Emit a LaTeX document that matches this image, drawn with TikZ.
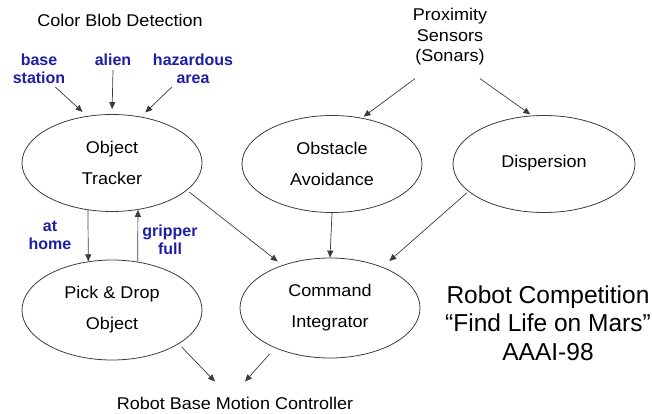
\documentclass[tikz,border=0pt]{standalone}
\usepackage{fontspec}
\setmainfont{Liberation Sans}
\newfontfamily\widesans[FakeStretch=1.06]{Liberation Sans}
\usetikzlibrary{shapes.geometric,arrows.meta}
\definecolor{lblue}{RGB}{30,30,165}
\definecolor{ln}{RGB}{60,60,60}
\begin{document}
\begin{tikzpicture}[x=1pt,y=-1pt,
 ell/.style={draw=ln,line width=0.8pt,ellipse,minimum width=180pt,minimum height=97pt,inner sep=0pt,align=center,font=\widesans\fontsize{17}{31}\selectfont},
 lab/.style={inner sep=0pt,align=center,font=\widesans\fontsize{17}{18}\selectfont},
 blab/.style={inner sep=0pt,align=center,font=\fontsize{16}{18}\selectfont\bfseries,text=lblue},
 arr/.style={draw=ln,line width=0.7pt,-{Triangle[length=7pt,width=6pt]}}]
\useasboundingbox (0,0) rectangle (652,414);
% ellipses
\node[ell] (OT) at (112,163) {Object\\Tracker};
\node[ell] (OA) at (332,164) {Obstacle\\Avoidance};
\node[ell,minimum width=182pt] (DI) at (544,164) {\raisebox{6pt}{Dispersion}};
\node[ell,minimum height=100pt] (PD) at (112,310) {Pick \& Drop\\Object};
\node[ell,minimum height=100pt] (CI) at (330,308) {Command\\Integrator};
% labels
\node[lab] (CB) at (120,20) {Color Blob Detection};
\node[blab] (BS) at (39,69) {base\\station};
\node[blab] (AL) at (113,60) {alien};
\node[blab] (HZ) at (193,69) {hazardous\\area};
\node[lab,font=\widesans\fontsize{17}{20.5}\selectfont] (PS) at (450,37) {Proximity\\Sensors\\(Sonars)};
\node[blab] (AH) at (50,235) {at\\home};
\node[blab] (GF) at (170,240) {gripper\\full};
\node[lab] (RB) at (235,403) {Robot Base Motion Controller};
\node[lab,font=\fontsize{24.5}{28.5}\selectfont] (RC) at (548,323) {Robot Competition\\“Find Life on Mars”\\AAAI-98};
% arrows into object tracker
\draw[arr,shorten >=6pt] ([shift={(-10,3)}]BS.south east) -- (OT.118);
\draw[arr,shorten >=5pt] ([shift={(0,4)}]AL.south) -- (OT.90);
\draw[arr,shorten >=6pt] ([shift={(19,3)}]HZ.south west) -- (OT.58);
% proximity
\draw[arr,shorten >=2pt] ([shift={(-35,13)}]PS.south) -- (OA.57);
\draw[arr,shorten >=2pt] ([shift={(30,13)}]PS.south) -- (DI.104);
% tracker <-> pick drop
\draw[arr] (OT.-117) -- (PD.116.5);
\draw[arr] (PD.62.5) -- (OT.-61.5);
% to command integrator
\draw[arr,shorten <=3pt,shorten >=6pt] (OT.-20) -- (CI.138);
\draw[arr] (OA.south) -- (CI.north);
\draw[arr,shorten <=2pt,shorten >=9pt] (DI.200) -- (CI.38);
% to robot base
\draw[arr,shorten <=4pt] (PD.-27) -- ([shift={(-20,-15)}]RB.north);
\draw[arr,shorten <=8pt] (CI.216) -- ([shift={(10,-15)}]RB.north);
\end{tikzpicture}
\end{document}
